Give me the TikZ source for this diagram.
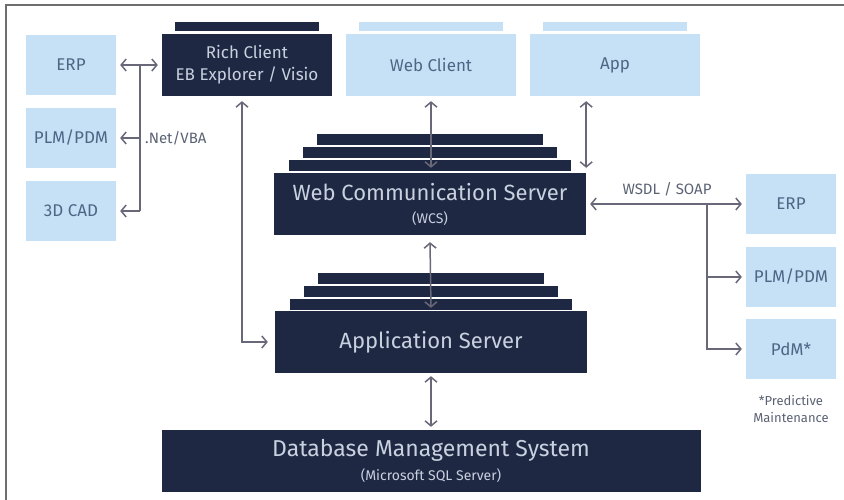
\documentclass[tikz,border=0pt]{standalone}
\usepackage{fontspec}
\setmainfont{Fira Sans}
\usepackage{tikz}
\usetikzlibrary{arrows.meta, positioning, calc}
\definecolor{navy}{RGB}{31,40,66}
\definecolor{skyblue}{RGB}{198,224,245}
\definecolor{navytext}{RGB}{200,209,224}
\definecolor{skytext}{RGB}{78,102,134}
\definecolor{wire}{RGB}{104,104,120}
\definecolor{labtext}{RGB}{90,98,116}
\definecolor{framegray}{RGB}{110,110,110}
\newcommand{\subfont}{\fontsize{14}{16}\selectfont}
\tikzset{
  darkbox/.style={rectangle, fill=navy, text=navytext, inner sep=0pt,
    minimum width=170pt, minimum height=62pt, align=center,
    font=\fontsize{17}{22}\selectfont},
  lightbox/.style={rectangle, fill=skyblue, text=skytext, inner sep=0pt,
    minimum width=90pt, minimum height=60pt, align=center,
    font=\fontsize{17}{21}\selectfont},
  server/.style={darkbox, minimum width=312pt, font=\fontsize{22}{24}\selectfont},
  layer/.style={rectangle, fill=navy, inner sep=0pt, minimum height=11pt},
  tab/.style={rectangle, inner sep=0pt, minimum width=144pt, minimum height=9pt},
  arrow/.style={-{Straight Barb[length=5pt,width=12pt]}, line width=1.5pt, color=wire},
  dblarrow/.style={{Straight Barb[length=5pt,width=12pt]}-{Straight Barb[length=5pt,width=12pt]},
    line width=1.5pt, color=wire},
  line/.style={line width=1.5pt, color=wire},
  lab/.style={text=labtext, font=\fontsize{14}{16}\selectfont, inner sep=1pt}
}

\begin{document}
\begin{tikzpicture}[x=1pt, y=-1pt]
  \useasboundingbox (0,0) rectangle (844,500);
  \draw[line width=2pt, color=framegray] (6,500) -- (6,5) -- (844,5);

  % clients
  \node[tab, fill=navy] (richtab) at (247,27) {};
  \node[darkbox] (rich) at (247,65) {Rich Client\\EB Explorer / Visio};
  \node[tab, fill=skyblue] (webtab) at (431,27) {};
  \node[lightbox, minimum width=170pt, minimum height=62pt] (web) at (431,65) {Web Client};
  \node[tab, fill=skyblue] (apptab) at (615,27) {};
  \node[lightbox, minimum width=170pt, minimum height=62pt] (app) at (615,65) {App};

  % left systems
  \node[lightbox] (erpL) at (71,65) {ERP};
  \node[lightbox] (plmL) at (71,138) {PLM/PDM};
  \node[lightbox] (cadL) at (71,211) {3D CAD};

  % right systems
  \node[lightbox] (erpR) at (791,204) {ERP};
  \node[lightbox] (plmR) at (791,277) {PLM/PDM};
  \node[lightbox] (pdm) at (791,349) {PdM*};
  \node[lab, align=center, font=\fontsize{13}{17}\selectfont] (pdmnote) at (791,409) {*Predictive\\Maintenance};

  % web communication server
  \node[layer, minimum width=226pt] (wcsL1) at (430,140) {};
  \node[layer, minimum width=254pt] (wcsL2) at (430,153) {};
  \node[layer, minimum width=282pt] (wcsL3) at (430,166) {};
  \node[server] (wcs) at (430,204) {Web Communication Server\\[-1pt]{\subfont (WCS)}};

  % application server
  \node[layer, minimum width=226pt] (asrvL1) at (431,278) {};
  \node[layer, minimum width=254pt] (asrvL2) at (431,291) {};
  \node[layer, minimum width=282pt] (asrvL3) at (431,304) {};
  \node[server] (asrv) at (431,342) {Application Server};

  % database
  \node[server, minimum width=539pt, font=\fontsize{23}{25}\selectfont] (dbms) at (431,461) {Database Management System\\[-1pt]{\subfont (Microsoft SQL Server)}};

  % left bus
  \coordinate (lbus) at (140,65);
  \draw[dblarrow] ([xshift=4pt]erpL.east) -- ([xshift=-4pt]rich.west |- erpL.east);
  \draw[line] (lbus) -- (lbus |- cadL.east);
  \draw[arrow] (lbus |- plmL.east) -- ([xshift=4pt]plmL.east);
  \draw[arrow] (lbus |- cadL.east) -- ([xshift=4pt]cadL.east);
  \node[lab, font=\fontsize{15}{17}\selectfont, right=4pt of lbus |- plmL.east] (netvba) {.Net/VBA};

  % vertical links
  \draw[dblarrow] ([xshift=-5pt, yshift=-5pt]rich.south) |- ([xshift=-7pt]asrv.west);
  \draw[dblarrow] ([yshift=-5pt]web.south) -- ([yshift=5pt]wcs.north -| web.south);
  \draw[dblarrow] ([yshift=-5pt]app.south -| wcs.east) -- ([yshift=5pt]wcs.north east);
  \draw[dblarrow] ([yshift=-7pt]wcs.south) -- ([yshift=3pt]asrv.north);
  \draw[dblarrow] ([yshift=-3pt]asrv.south) -- ([yshift=3pt]dbms.north);

  % right bus
  \coordinate (rbus) at (707,204);
  \draw[dblarrow] ([xshift=4pt]wcs.east) -- ([xshift=-4pt]erpR.west);
  \draw[arrow] (rbus |- plmR.west) -- ([xshift=-4pt]plmR.west);
  \draw[arrow] (rbus) |- ([xshift=-4pt]pdm.west);
  \node[lab, font=\fontsize{15}{17}\selectfont] (wsdl) at (667,189) {WSDL / SOAP};
\end{tikzpicture}
\end{document}
